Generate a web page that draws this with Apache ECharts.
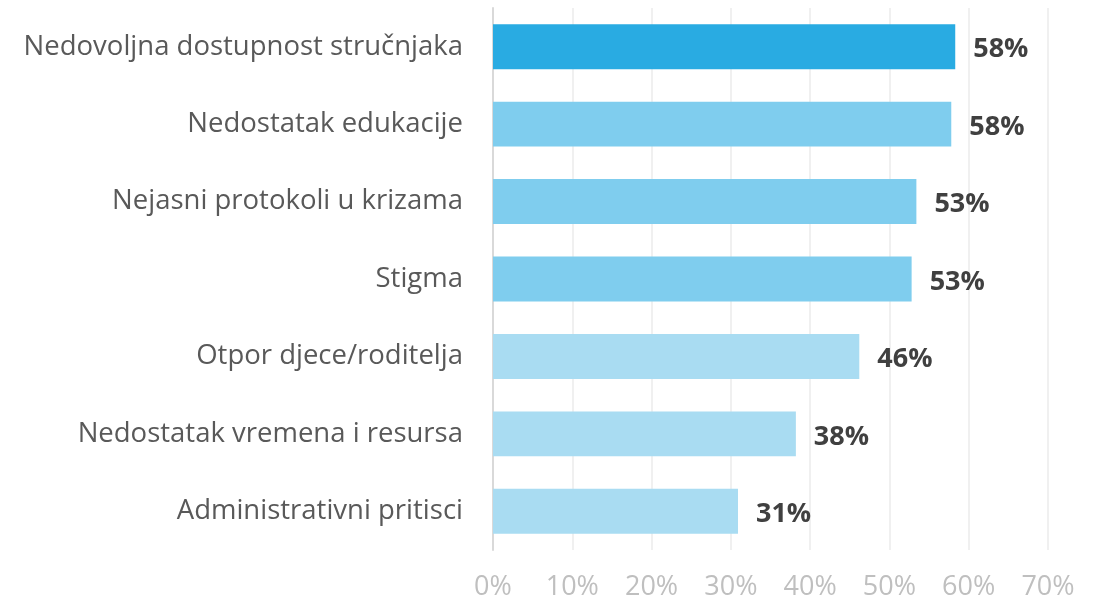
<!DOCTYPE html>
<html>
<head>
<meta charset="utf-8">
<script src="https://cdn.jsdelivr.net/npm/echarts@6/dist/echarts.min.js"></script>
<style>
  html, body { margin: 0; padding: 0; background: #fff; }
  #chart { width: 1104px; height: 605px; }
</style>
</head>
<body>
<div id="chart"></div>
<script>
// kategorije (odozgo prema dolje)
var categories = [
  'Nedovoljna dostupnost stručnjaka',
  'Nedostatak edukacije',
  'Nejasni protokoli u krizama',
  'Stigma',
  'Otpor djece/roditelja',
  'Nedostatak vremena i resursa',
  'Administrativni pritisci'
]
// postotci
var values = [58.3, 57.8, 53.4, 52.8, 46.2, 38.2, 30.9]
var barColors = ['#29ABE2', '#7FCDEE', '#7FCDEE', '#7FCDEE', '#A9DCF2', '#A9DCF2', '#A9DCF2']
var xTicks = { min: 0, max: 70, interval: 10 }

var chart = echarts.init(document.getElementById('chart'))
chart.setOption({
  animation: false,
  textStyle: { fontFamily: '"Open Sans", sans-serif' },
  grid: { left: 493, right: 56, top: 8, bottom: 55, containLabel: false },
  xAxis: {
    type: 'value',
    min: xTicks.min,
    max: xTicks.max,
    interval: xTicks.interval,
    axisLine: { show: false },
    axisTick: { show: false },
    splitLine: { show: true, lineStyle: { color: '#EBEBEB', width: 1.5 } },
    axisLabel: {
      margin: 24,
      color: '#BFBFBF',
      fontSize: 27,
      formatter: function(v) { return v + '%' }
    }
  },
  yAxis: {
    type: 'category',
    inverse: true,
    data: categories,
    axisLine: { show: true, lineStyle: { color: '#D9D9D9', width: 2 } },
    axisTick: { show: false },
    axisLabel: { margin: 30, color: '#595959', fontSize: 27.5 }
  },
  series: [{
    type: 'bar',
    barWidth: '58%',
    data: values.map(function(v, i) {
      return { value: v, itemStyle: { color: barColors[i] } }
    }),
    label: {
      show: true,
      position: 'right',
      distance: 18,
      offset: [0, 3],
      color: '#404040',
      fontSize: 27,
      fontWeight: 'bold',
      formatter: function(p) { return Math.round(p.value) + '%' }
    }
  }]
})
</script>
</body>
</html>
